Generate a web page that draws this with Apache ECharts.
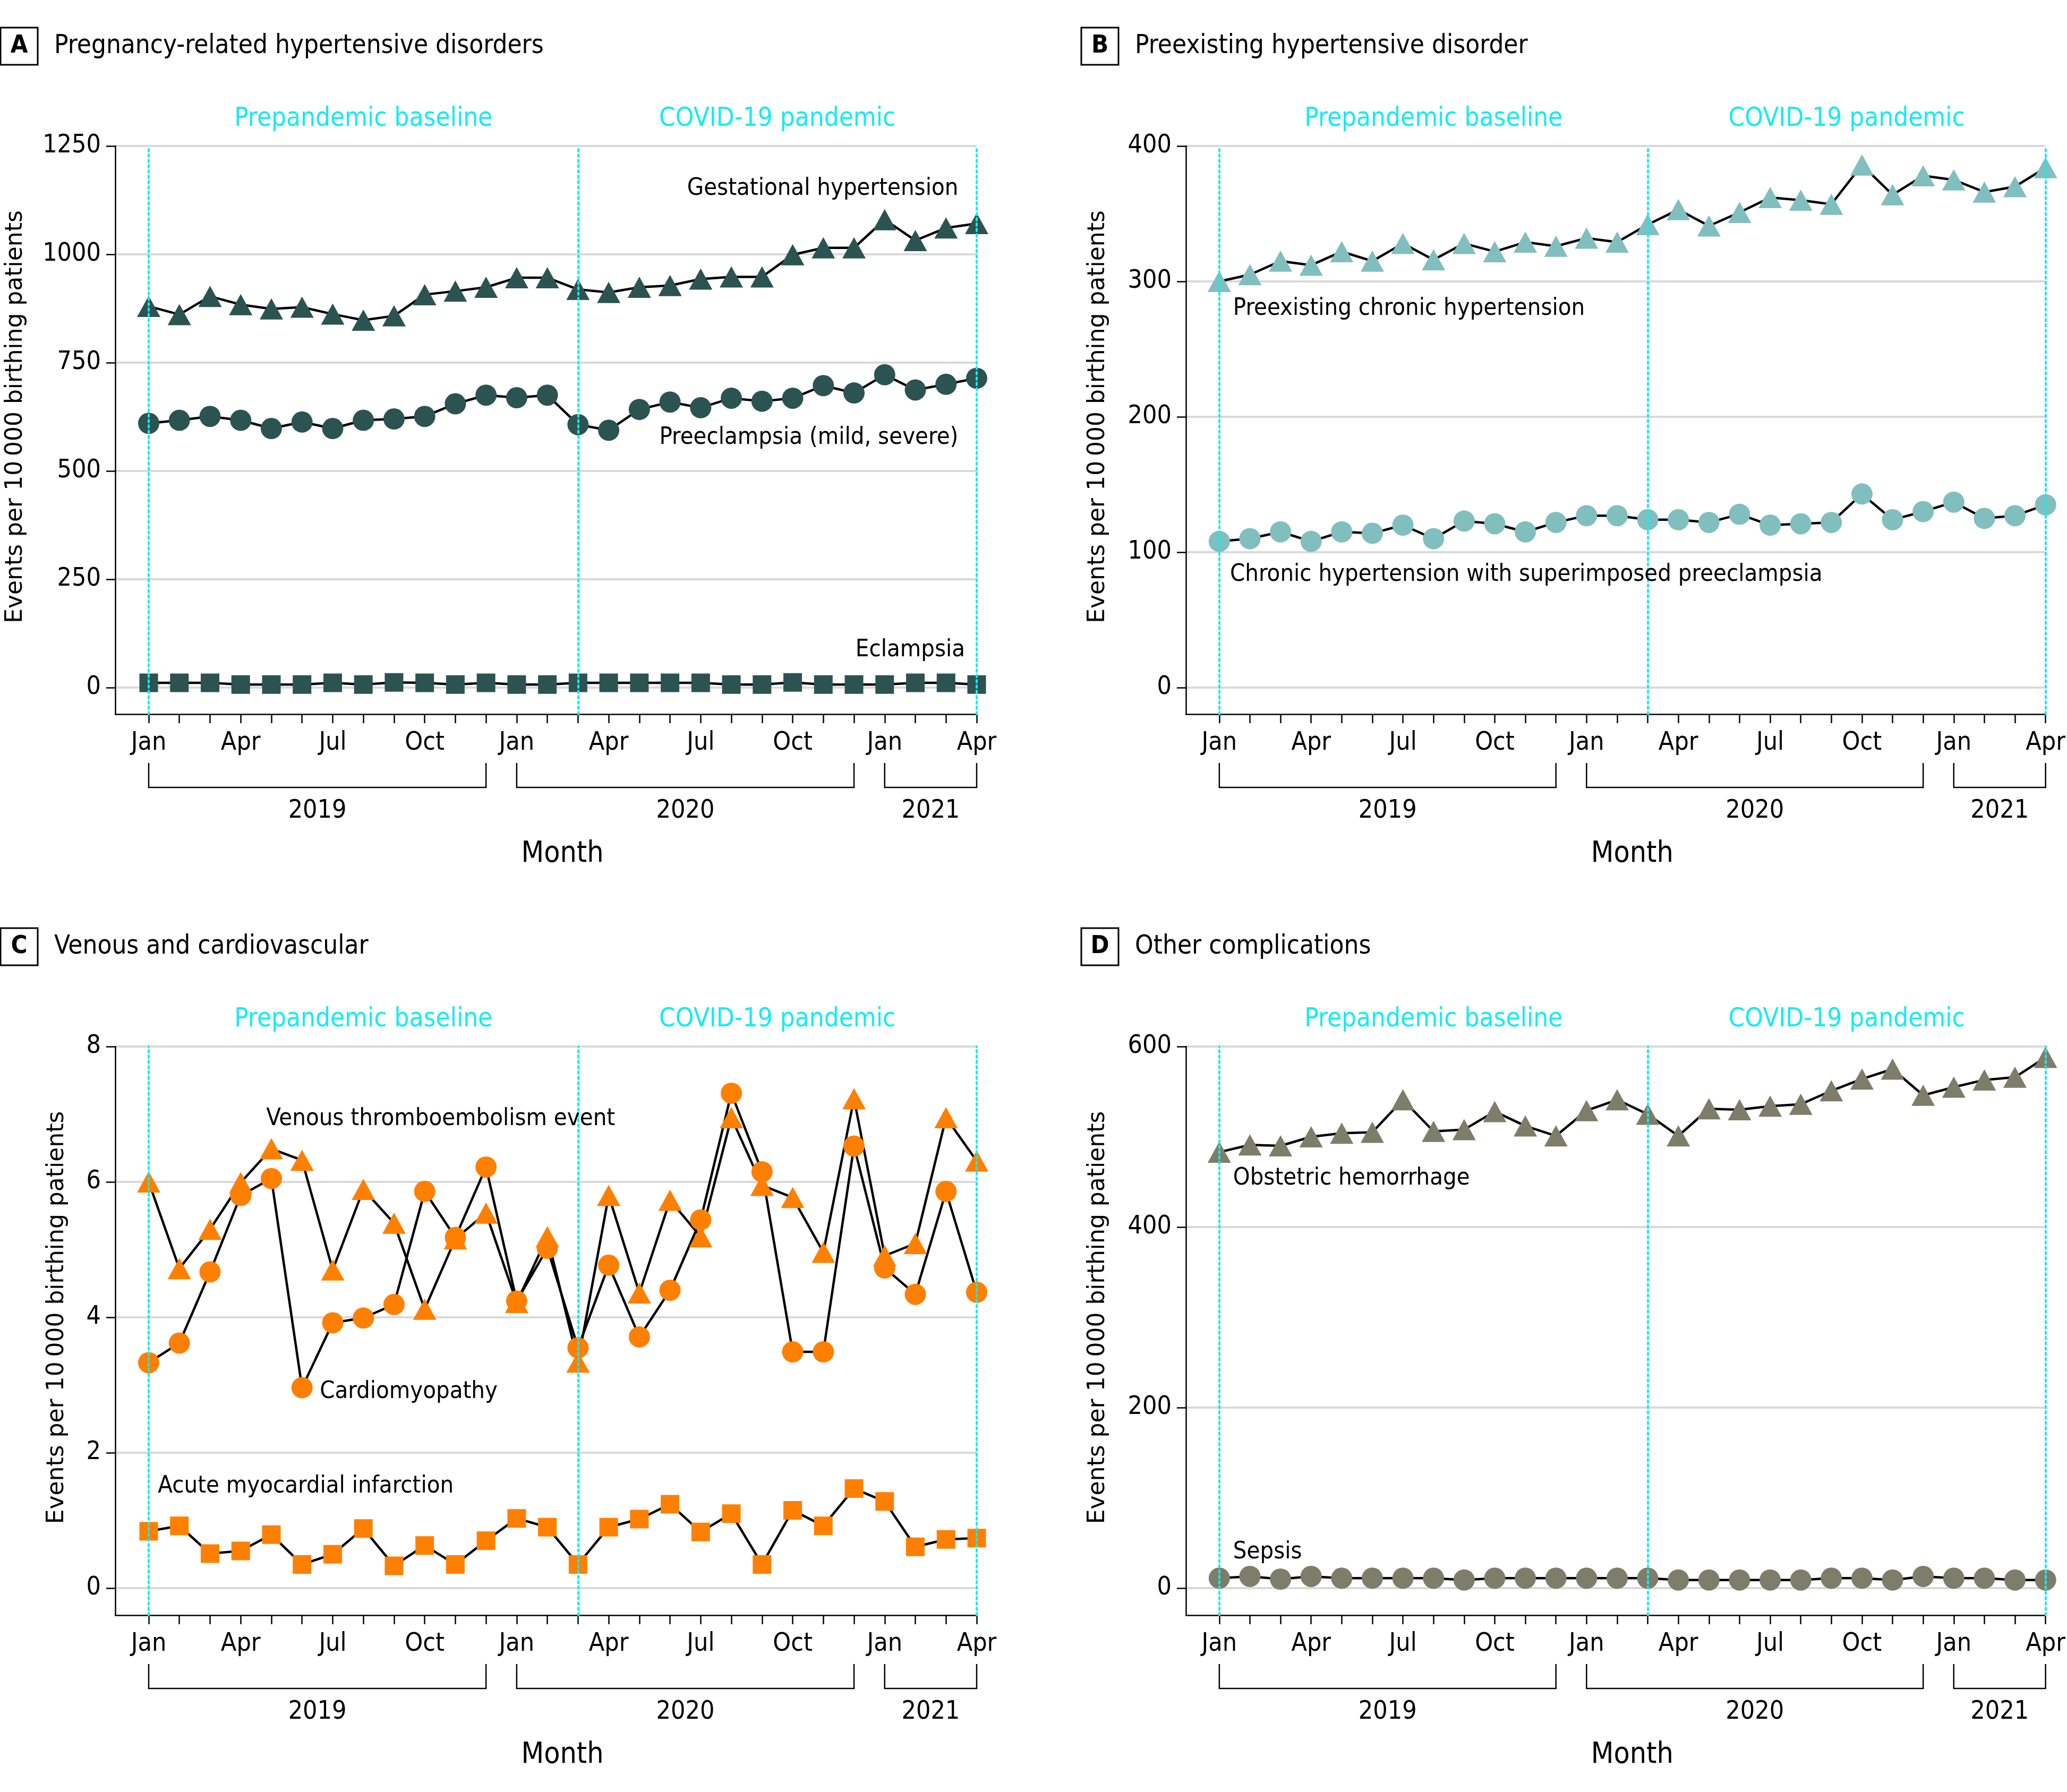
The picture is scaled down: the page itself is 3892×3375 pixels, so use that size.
<!DOCTYPE html>
<html><head><meta charset="utf-8">
<script src="https://cdn.jsdelivr.net/npm/echarts@6/dist/echarts.min.js"></script>
<style>html,body{margin:0;padding:0;background:#fff}#c{width:3892px;height:3375px}</style>
</head><body><div id="c"></div>
<script>
// ---------------- data ----------------
const monthAbbr = ['Jan','Feb','Mar','Apr','May','Jun','Jul','Aug','Sep','Oct','Nov','Dec',
                   'Jan','Feb','Mar','Apr','May','Jun','Jul','Aug','Sep','Oct','Nov','Dec',
                   'Jan','Feb','Mar','Apr'];
const labeledMonths = [0,3,6,9,12,15,18,21,24,27];
const yearLabels = ['2019','2020','2021'];
const yearStart = [0,12,24];
const yearEnd = [11,23,27];
const periodLines = [0,14,27];
const periodNames = ['Prepandemic baseline','COVID-19 pandemic'];

const yTicksA = [0,250,500,750,1000,1250];
const yTicksB = [0,100,200,300,400];
const yTicksC = [0,2,4,6,8];
const yTicksD = [0,200,400,600];

const gestationalHypertension = [880,861,903,884,874,878,862,848,858,907,915,924,946,946,919,912,924,928,943,948,948,999,1015,1015,1080,1032,1061,1071];
const preeclampsia = [610,617,626,617,598,613,598,617,620,626,655,675,669,675,607,594,642,659,646,668,661,668,697,680,722,687,700,714];
const eclampsia = [11,11,11,7,7,7,11,7,12,11,7,11,7,7,11,11,11,11,11,7,7,12,7,7,7,11,11,7];

const chronicHypertension = [300,305,315,312,322,315,328,316,328,322,329,326,332,329,342,353,341,351,362,360,357,386,364,378,375,366,370,384];
const superimposedPreeclampsia = [108,110,115,108,115,114,120,110,123,121,115,122,127,127,124,124,122,128,120,121,122,143,124,130,137,125,127,135];

const venousThromboembolism = [6.00,4.72,5.30,5.99,6.49,6.32,4.70,5.89,5.39,4.12,5.16,5.54,4.22,5.19,3.34,5.80,4.36,5.73,5.19,6.95,5.95,5.77,4.96,7.23,4.91,5.09,6.95,6.31];
const cardiomyopathy = [3.33,3.62,4.67,5.80,6.05,2.96,3.92,3.99,4.19,5.86,5.18,6.22,4.24,5.02,3.55,4.77,3.71,4.40,5.44,7.31,6.15,3.49,3.49,6.53,4.73,4.34,5.86,4.37];
const acuteMI = [0.84,0.92,0.51,0.55,0.79,0.35,0.50,0.88,0.33,0.63,0.35,0.70,1.03,0.90,0.35,0.90,1.02,1.24,0.83,1.10,0.35,1.15,0.92,1.47,1.28,0.61,0.72,0.74];

const obstetricHemorrhage = [483,491,490,500,504,505,541,506,508,528,512,501,529,541,525,501,531,530,534,536,551,564,575,546,555,563,566,588];
const sepsis = [11,13,10,13,11,11,11,11,9,11,11,11,11,11,11,9,9,9,9,9,11,11,9,13,11,11,9,9];

// ---------------- styles / layout ----------------
const FONT = "'DejaVu Sans Condensed', Roboto, sans-serif";
const CYAN = '#14ecf2';
const YNAME = 'Events per 10\u2009000 birthing patients';

const panels = [
  {letter:'A', title:'Pregnancy-related hypertensive disorders', left:217, top:275, height:1070,
   yMin:-61.27, yMax:1250, yTicks:yTicksA, color:'#2b5352', nameGap:161, tLeft:1, tTop:52,
   series:[
     {data:gestationalHypertension, symbol:'triangle', text:'Gestational hypertension', at:[26.4,1152], align:'right'},
     {data:preeclampsia, symbol:'circle', text:'Preeclampsia (mild, severe)', at:[26.4,577], align:'right'},
     {data:eclampsia, symbol:'rect', text:'Eclampsia', at:[26.62,87], align:'right'}
   ]},
  {letter:'B', title:'Preexisting hypertensive disorder', left:2233, top:275, height:1070,
   yMin:-19.6, yMax:400, yTicks:yTicksB, color:'#80bfbe', nameGap:139, tLeft:2036, tTop:52,
   series:[
     {data:chronicHypertension, symbol:'triangle', text:'Preexisting chronic hypertension', at:[0.45,280], align:'left'},
     {data:superimposedPreeclampsia, symbol:'circle', text:'Chronic hypertension with superimposed preeclampsia', at:[0.35,83.5], align:'left'}
   ]},
  {letter:'C', title:'Venous and cardiovascular', left:217, top:1971, height:1071,
   yMin:-0.4, yMax:8, yTicks:yTicksC, color:'#ff7f00', nameGap:83, tLeft:1, tTop:1748,
   series:[
     {data:venousThromboembolism, symbol:'triangle', text:'Venous thromboembolism event', at:[3.83,6.93], align:'left'},
     {data:cardiomyopathy, symbol:'circle', text:'Cardiomyopathy', at:[5.58,2.90], align:'left'},
     {data:acuteMI, symbol:'rect', text:'Acute myocardial infarction', at:[0.3,1.50], align:'left'}
   ]},
  {letter:'D', title:'Other complications', left:2233, top:1971, height:1071,
   yMin:-30, yMax:600, yTicks:yTicksD, color:'#7d7d69', nameGap:139, tLeft:2036, tTop:1748,
   series:[
     {data:obstetricHemorrhage, symbol:'triangle', text:'Obstetric hemorrhage', at:[0.45,454], align:'left'},
     {data:sepsis, symbol:'circle', text:'Sepsis', at:[0.45,40], align:'left'}
   ]}
];

const symbolSizes = {triangle:[44,40], circle:40, rect:35};

const option = {animation:false, backgroundColor:'#fff', title:[], grid:[], xAxis:[], yAxis:[], series:[]};

panels.forEach((p, g) => {
  option.title.push({
    left:p.tLeft, top:p.tTop, padding:0,
    text:'{box|' + p.letter + '}{t|' + p.title + '}',
    textStyle:{fontWeight:'normal', rich:{
      box:{width:70, height:70, lineHeight:70, align:'center', verticalAlign:'middle', borderColor:'#000', borderWidth:3,
           fontFamily:FONT, fontWeight:'bold', fontSize:47, color:'#000'},
      t:{fontFamily:FONT, fontSize:49, fontWeight:'normal', color:'#000', padding:[0,0,0,31], verticalAlign:'middle'}
    }}
  });
  option.grid.push({left:p.left, top:p.top, width:1622, height:p.height, containLabel:false});
  option.xAxis.push({
    type:'value', gridIndex:g, min:-1.091, max:27,
    axisLine:{show:true, onZero:false, lineStyle:{color:'#000', width:2.5}},
    axisTick:{show:true, length:17, lineStyle:{color:'#000', width:2.5}, customValues:monthAbbr.map((_, i) => i)},
    axisLabel:{show:true, customValues:labeledMonths, formatter:v => monthAbbr[Math.round(v)], margin:31,
               fontSize:48, color:'#000', fontFamily:FONT},
    splitLine:{show:false},
    name:'Month', nameLocation:'middle', nameGap:236,
    nameTextStyle:{fontFamily:FONT, fontSize:55, color:'#000', padding:[0,0,0,62]}
  });
  option.yAxis.push({
    type:'value', gridIndex:g, min:p.yMin, max:p.yMax,
    axisLine:{show:true, onZero:false, lineStyle:{color:'#000', width:2.5}},
    axisTick:{show:true, length:17, lineStyle:{color:'#000', width:2.5}, customValues:p.yTicks},
    axisLabel:{show:true, customValues:p.yTicks, formatter:v => String(v), margin:27, fontSize:48, color:'#000', fontFamily:FONT},
    splitLine:{show:true, lineStyle:{color:'#d9d9d9', width:4}},
    name:YNAME, nameLocation:'middle', nameGap:p.nameGap,
    nameTextStyle:{fontFamily:'DejaVu Sans', fontSize:44, lineHeight:52, color:'#000', padding:[0,0,0,50]}
  });
  // period reference lines + period labels
  option.series.push({
    type:'line', xAxisIndex:g, yAxisIndex:g, data:[], z:1, silent:true,
    markLine:{silent:true, symbol:'none', label:{show:false},
      lineStyle:{color:CYAN, type:[4,6], width:4, cap:'round'},
      data:periodLines.map(v => ({xAxis:v}))},
    markArea:{silent:true, itemStyle:{color:'rgba(0,0,0,0)'},
      label:{show:true, position:'top', distance:26, color:CYAN, fontSize:49, fontFamily:FONT},
      data:periodNames.map((n, i) => [{name:n, xAxis:periodLines[i]}, {xAxis:periodLines[i + 1]}])}
  });
  // data series
  p.series.forEach(s => {
    option.series.push({
      type:'line', xAxisIndex:g, yAxisIndex:g, z:3,
      data:s.data.map((v, i) => [i, v]),
      symbol:s.symbol, symbolSize:symbolSizes[s.symbol], showAllSymbol:true,
      itemStyle:{color:p.color},
      lineStyle:{color:'#000', width:4.5},
      emphasis:{disabled:true},
      markPoint:{silent:true, symbol:'circle', symbolSize:0,
        data:[{coord:s.at, label:{show:true, formatter:s.text, position:[0,0], align:s.align, verticalAlign:'middle',
          color:'#000', fontFamily:FONT, fontSize:45}}]}
    });
  });
  // year brackets
  option.series.push({
    type:'custom', xAxisIndex:g, yAxisIndex:g, clip:false, silent:true, z:5,
    data:yearLabels.map((y, i) => [yearStart[i], yearEnd[i]]),
    renderItem:(params, api) => {
      const cs = params.coordSys;
      const base = cs.y + cs.height;
      const x0 = api.coord([api.value(0), 0])[0];
      const x1 = api.coord([api.value(1), 0])[0];
      return {type:'group', children:[
        {type:'polyline', shape:{points:[[x0, base + 92], [x0, base + 138], [x1, base + 138], [x1, base + 92]]},
         style:{stroke:'#000', lineWidth:2.5, fill:null}},
        {type:'text', style:{text:yearLabels[params.dataIndex], x:(x0 + x1) / 2, y:base + 183,
         align:'center', verticalAlign:'middle', fontSize:48, fontFamily:FONT, fill:'#000'}}
      ]};
    }
  });
});

const chart = echarts.init(document.getElementById('c'), null, {renderer:'canvas'});
chart.setOption(option);
</script>
</body></html>
